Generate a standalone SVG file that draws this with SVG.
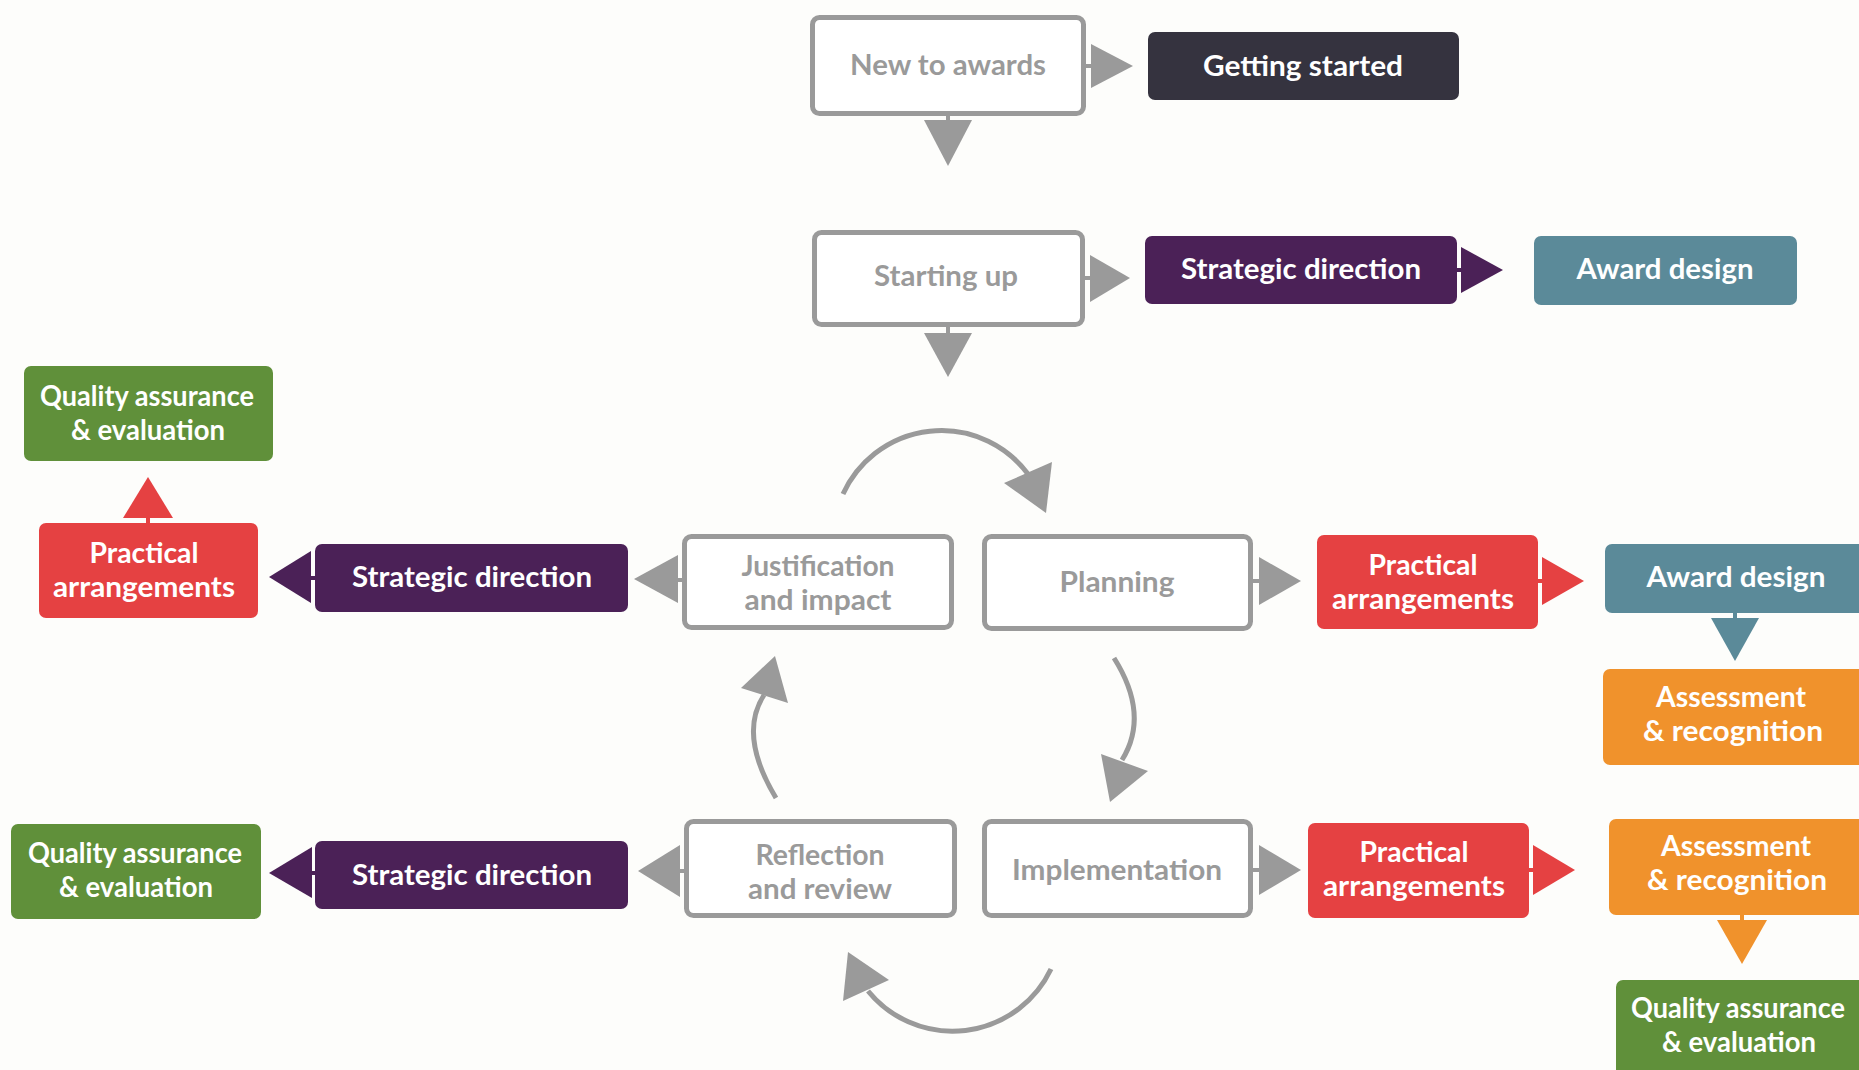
<svg xmlns="http://www.w3.org/2000/svg" width="1859" height="1070" viewBox="0 0 1859 1070">
<style>
.bg{fill:#fdfdfb}
.gbox{fill:#ffffff;stroke:#9a9a9a;stroke-width:5}
.gt{font-family:Lato,"Open Sans",sans-serif;font-weight:700;font-size:28px;fill:#9a9a9a;text-anchor:middle}
.wt{font-family:Lato,"Open Sans",sans-serif;font-weight:700;font-size:28px;fill:#ffffff;text-anchor:middle}
.dark{fill:#35333f}.purple{fill:#4b2157}.teal{fill:#5b8a99}.red{fill:#e54142}.orange{fill:#f0922c}.green{fill:#60903a}
.ag{fill:#9a9a9a}.ap{fill:#4b2157}.ar{fill:#e54142}.at{fill:#5b8a99}.ao{fill:#f0922c}
.arc{fill:none;stroke:#9a9a9a;stroke-width:5}
</style>
<rect class="bg" x="0" y="0" width="1859" height="1070"/>

<g id="connectors">
  <!-- New to awards -> Getting started -->
  <rect class="ag" x="1086" y="64" width="7" height="4"/>
  <polygon class="ag" points="1091,44 1091,88 1133,66"/>
  <!-- New to awards down -->
  <rect class="ag" x="946" y="114" width="4" height="7"/>
  <polygon class="ag" points="924,120 972,120 948,166"/>
  <!-- Starting up -> Strategic direction -->
  <rect class="ag" x="1084" y="276" width="7" height="4"/>
  <polygon class="ag" points="1090,255 1090,302 1130,278"/>
  <!-- Strategic direction -> Award design -->
  <rect class="ap" x="1456" y="268" width="7" height="4"/>
  <polygon class="ap" points="1461,247 1461,293 1503,270"/>
  <!-- Starting up down -->
  <rect class="ag" x="946" y="326" width="4" height="8"/>
  <polygon class="ag" points="924,333 972,333 948,377"/>
  <!-- Practical arrangements (left) up to QA -->
  <rect class="ar" x="146" y="516" width="4" height="8"/>
  <polygon class="ar" points="123,518 173,518 148,477"/>
  <!-- Strategic direction (left) -> Practical arrangements -->
  <rect class="ap" x="308" y="576" width="8" height="4"/>
  <polygon class="ap" points="311,551 311,603 269,577"/>
  <!-- Justification -> Strategic direction -->
  <rect class="ag" x="676" y="578" width="8" height="4"/>
  <polygon class="ag" points="678,555 678,603 634,579"/>
  <!-- Planning -> Practical arrangements -->
  <rect class="ag" x="1252" y="579" width="8" height="4"/>
  <polygon class="ag" points="1259,557 1259,605 1301,581"/>
  <!-- Practical arrangements -> Award design -->
  <rect class="ar" x="1537" y="579" width="8" height="4"/>
  <polygon class="ar" points="1542,557 1542,605 1584,581"/>
  <!-- Award design down -> Assessment -->
  <rect class="at" x="1733" y="612" width="4" height="8"/>
  <polygon class="at" points="1711,618 1759,618 1735,661"/>
  <!-- Reflection -> Strategic direction -->
  <rect class="ag" x="678" y="869" width="8" height="4"/>
  <polygon class="ag" points="680,845 680,897 638,871"/>
  <!-- Strategic direction (bottom) -> QA -->
  <rect class="ap" x="309" y="871" width="8" height="4"/>
  <polygon class="ap" points="312,847 312,898 269,873"/>
  <!-- Implementation -> Practical arrangements -->
  <rect class="ag" x="1252" y="868" width="8" height="4"/>
  <polygon class="ag" points="1259,845 1259,895 1301,870"/>
  <!-- Practical arrangements -> Assessment -->
  <rect class="ar" x="1528" y="868" width="8" height="4"/>
  <polygon class="ar" points="1533,845 1533,895 1575,870"/>
  <!-- Assessment down -> QA -->
  <rect class="ao" x="1740" y="914" width="4" height="8"/>
  <polygon class="ao" points="1717,920 1767,920 1742,964"/>

  <!-- cycle arcs -->
  <path class="arc" d="M843,494 A108,108 0 0 1 1028,474"/>
  <polygon class="ag" points="1004,483 1052,462 1046,513"/>
  <path class="arc" d="M1114,658 Q1150,715 1122,760"/>
  <polygon class="ag" points="1101,754 1148,771 1110,802"/>
  <path class="arc" d="M1051,969 A109,109 0 0 1 868,991"/>
  <polygon class="ag" points="843,1001 848,952 889,980"/>
  <path class="arc" d="M776,798 Q738,735 764,695"/>
  <polygon class="ag" points="741,688 775,656 788,703"/>
</g>

<g id="n-new">
  <rect class="gbox" x="812.5" y="17.5" width="271" height="96" rx="7"/>
  <text class="gt" x="948" y="75" textLength="196" lengthAdjust="spacingAndGlyphs">New to awards</text>
</g>
<g id="n-getting-started">
  <rect class="dark" x="1148" y="32" width="311" height="68" rx="7"/>
  <text class="wt" x="1303" y="76" textLength="200" lengthAdjust="spacingAndGlyphs">Getting started</text>
</g>
<g id="n-starting-up">
  <rect class="gbox" x="814.5" y="232.5" width="268" height="92" rx="7"/>
  <text class="gt" x="946" y="286" textLength="144" lengthAdjust="spacingAndGlyphs">Starting up</text>
</g>
<g id="n-sd-top">
  <rect class="purple" x="1145" y="236" width="312" height="68" rx="7"/>
  <text class="wt" x="1301" y="279" textLength="240" lengthAdjust="spacingAndGlyphs">Strategic direction</text>
</g>
<g id="n-ad-top">
  <rect class="teal" x="1534" y="236" width="263" height="69" rx="7"/>
  <text class="wt" x="1665" y="279" textLength="177" lengthAdjust="spacingAndGlyphs">Award design</text>
</g>
<g id="n-qa-tl">
  <rect class="green" x="24" y="366" width="249" height="95" rx="7"/>
  <text class="wt" x="147" y="406" textLength="214" lengthAdjust="spacingAndGlyphs">Quality assurance</text>
  <text class="wt" x="148" y="440" textLength="154" lengthAdjust="spacingAndGlyphs">&amp; evaluation</text>
</g>
<g id="n-pa-left">
  <rect class="red" x="39" y="523" width="219" height="95" rx="7"/>
  <text class="wt" x="144" y="563" textLength="109" lengthAdjust="spacingAndGlyphs">Practical</text>
  <text class="wt" x="144" y="597" textLength="182" lengthAdjust="spacingAndGlyphs">arrangements</text>
</g>
<g id="n-sd-left">
  <rect class="purple" x="315" y="544" width="313" height="68" rx="7"/>
  <text class="wt" x="472" y="587" textLength="240" lengthAdjust="spacingAndGlyphs">Strategic direction</text>
</g>
<g id="n-justification">
  <rect class="gbox" x="684.5" y="536.5" width="267" height="91" rx="7"/>
  <text class="gt" x="818" y="576" textLength="153" lengthAdjust="spacingAndGlyphs">Justification</text>
  <text class="gt" x="818" y="610" textLength="147" lengthAdjust="spacingAndGlyphs">and impact</text>
</g>
<g id="n-planning">
  <rect class="gbox" x="984.5" y="536.5" width="266" height="92" rx="7"/>
  <text class="gt" x="1117" y="592" textLength="115" lengthAdjust="spacingAndGlyphs">Planning</text>
</g>
<g id="n-pa-right-top">
  <rect class="red" x="1317" y="535" width="221" height="94" rx="7"/>
  <text class="wt" x="1423" y="575" textLength="109" lengthAdjust="spacingAndGlyphs">Practical</text>
  <text class="wt" x="1423" y="609" textLength="182" lengthAdjust="spacingAndGlyphs">arrangements</text>
</g>
<g id="n-ad-right">
  <rect class="teal" x="1605" y="544" width="270" height="69" rx="7"/>
  <text class="wt" x="1736" y="587" textLength="179" lengthAdjust="spacingAndGlyphs">Award design</text>
</g>
<g id="n-ar-top">
  <rect class="orange" x="1603" y="669" width="270" height="96" rx="7"/>
  <text class="wt" x="1731" y="707" textLength="150" lengthAdjust="spacingAndGlyphs">Assessment</text>
  <text class="wt" x="1733" y="741" textLength="180" lengthAdjust="spacingAndGlyphs">&amp; recognition</text>
</g>
<g id="n-qa-bl">
  <rect class="green" x="11" y="824" width="250" height="95" rx="7"/>
  <text class="wt" x="135" y="863" textLength="214" lengthAdjust="spacingAndGlyphs">Quality assurance</text>
  <text class="wt" x="136" y="897" textLength="154" lengthAdjust="spacingAndGlyphs">&amp; evaluation</text>
</g>
<g id="n-sd-bottom">
  <rect class="purple" x="315" y="841" width="313" height="68" rx="7"/>
  <text class="wt" x="472" y="885" textLength="240" lengthAdjust="spacingAndGlyphs">Strategic direction</text>
</g>
<g id="n-reflection">
  <rect class="gbox" x="686.5" y="821.5" width="268" height="94" rx="7"/>
  <text class="gt" x="820" y="865" textLength="129" lengthAdjust="spacingAndGlyphs">Reflection</text>
  <text class="gt" x="820" y="899" textLength="144" lengthAdjust="spacingAndGlyphs">and review</text>
</g>
<g id="n-implementation">
  <rect class="gbox" x="984.5" y="821.5" width="266" height="94" rx="7"/>
  <text class="gt" x="1117" y="880" textLength="210" lengthAdjust="spacingAndGlyphs">Implementation</text>
</g>
<g id="n-pa-right-bottom">
  <rect class="red" x="1308" y="823" width="221" height="95" rx="7"/>
  <text class="wt" x="1414" y="862" textLength="109" lengthAdjust="spacingAndGlyphs">Practical</text>
  <text class="wt" x="1414" y="896" textLength="182" lengthAdjust="spacingAndGlyphs">arrangements</text>
</g>
<g id="n-ar-bottom">
  <rect class="orange" x="1609" y="819" width="270" height="96" rx="7"/>
  <text class="wt" x="1736" y="856" textLength="150" lengthAdjust="spacingAndGlyphs">Assessment</text>
  <text class="wt" x="1737" y="890" textLength="180" lengthAdjust="spacingAndGlyphs">&amp; recognition</text>
</g>
<g id="n-qa-br">
  <rect class="green" x="1616" y="980" width="270" height="100" rx="7"/>
  <text class="wt" x="1738" y="1018" textLength="214" lengthAdjust="spacingAndGlyphs">Quality assurance</text>
  <text class="wt" x="1739" y="1052" textLength="154" lengthAdjust="spacingAndGlyphs">&amp; evaluation</text>
</g>
</svg>
